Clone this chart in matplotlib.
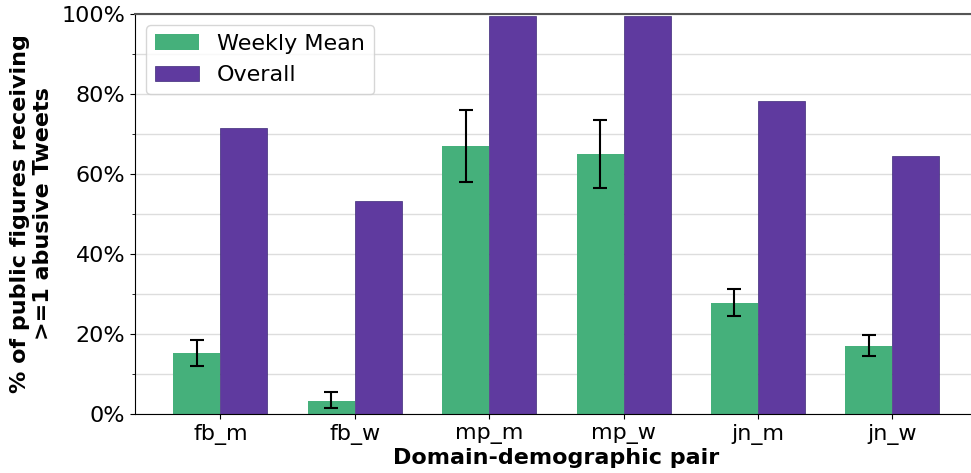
import numpy as np
import matplotlib
matplotlib.use('Agg')
import matplotlib.pyplot as plt
from matplotlib.ticker import PercentFormatter, MultipleLocator

# values (percent)
pairs = ['fb_m', 'fb_w', 'mp_m', 'mp_w', 'jn_m', 'jn_w']
weekly_mean = [15.3, 3.3, 67.0, 65.0, 27.8, 17.0]
weekly_lo = [12.0, 1.5, 58.0, 56.6, 24.6, 14.6]
weekly_hi = [18.5, 5.5, 76.0, 73.5, 31.3, 19.8]
overall = [71.5, 53.3, 99.5, 99.5, 78.3, 64.5]

green = '#45b07b'
purple = '#5f3a9f'

x = np.arange(len(pairs))
width = 0.35
err = [np.array(weekly_mean) - np.array(weekly_lo),
       np.array(weekly_hi) - np.array(weekly_mean)]

fig = plt.figure(figsize=(9.71, 4.73), dpi=100)
ax = fig.add_axes([0.139, 0.1247, 0.868, 0.8457])

ax.bar(x - width / 2, weekly_mean, width, color=green, label='Weekly Mean',
       yerr=err, capsize=5, error_kw={'elinewidth': 1.5, 'capthick': 1.5, 'ecolor': 'black'},
       zorder=2)
ax.bar(x + width / 2, overall, width, color=purple, label='Overall',
       edgecolor='#3d2a78', linewidth=0.5, zorder=2)

ax.set_ylim(0, 100)
ax.yaxis.set_major_locator(MultipleLocator(20))
ax.yaxis.set_minor_locator(MultipleLocator(10))
ax.yaxis.set_major_formatter(PercentFormatter(decimals=0))
ax.grid(axis='y', which='both', color='#dddddd', linewidth=1, zorder=0)
ax.set_axisbelow(True)

ax.set_xticks(x)
ax.set_xticklabels(pairs)
ax.tick_params(axis='both', labelsize=16)
ax.tick_params(axis='y', which='minor', length=2)

ax.spines['top'].set_color('#555555')
ax.spines['top'].set_linewidth(1.5)

ax.set_xlabel('Domain-demographic pair', fontsize=16, fontweight='bold', labelpad=2)
ax.set_ylabel('% of public figures receiving\n>=1 abusive Tweets', fontsize=16,
              fontweight='bold', labelpad=6)

ax.legend(loc='upper left', fontsize=16, handlelength=2.0)

fig.savefig('out.png', dpi=100)
